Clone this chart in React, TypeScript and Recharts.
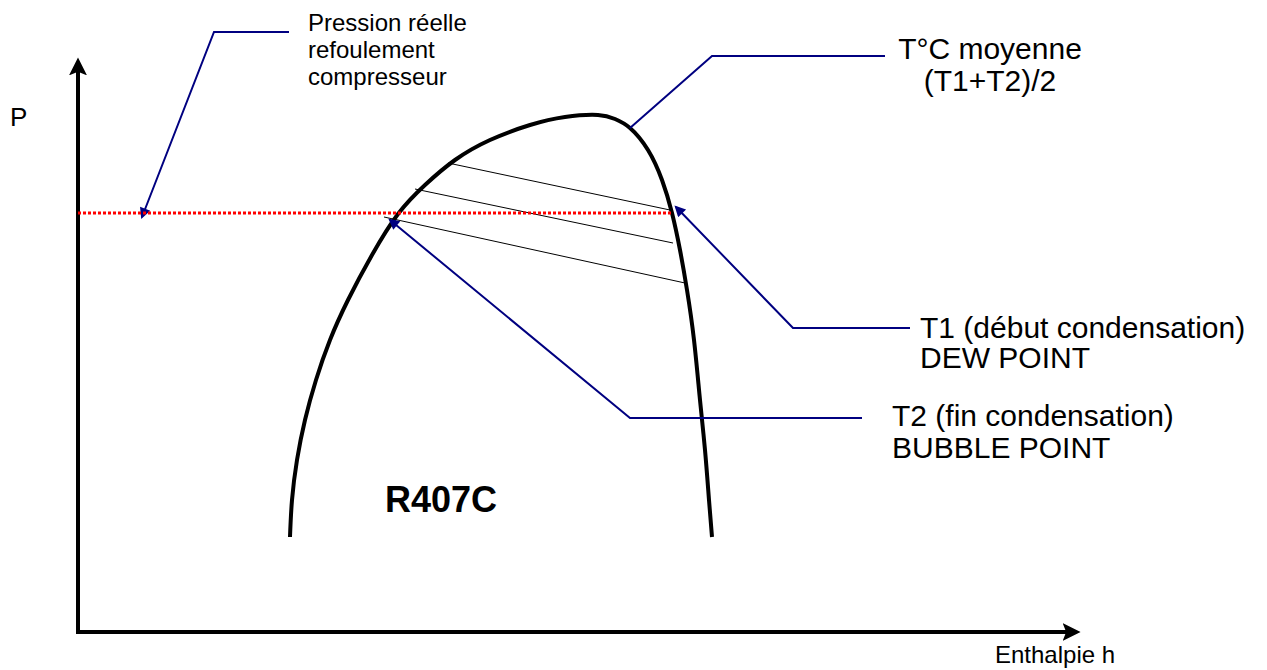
import { LineChart, Line, XAxis, YAxis, ReferenceDot } from "recharts";

// diagram units: h = enthalpie (arbitrary), P = pression (arbitrary)
const axisP = [{ h: 78, P: 38 }, { h: 78, P: 600 }];
const axisH = [{ h: 78, P: 38 }, { h: 1068, P: 38 }];

// saturation dome of R407C (bubble curve on the left, dew curve on the right)
const dome = [
  { h: 290, P: 133 }, { h: 292, P: 170 }, { h: 297, P: 210 }, { h: 305, P: 250 },
  { h: 316, P: 290 }, { h: 330, P: 330 }, { h: 348, P: 370 }, { h: 372, P: 415 },
  { h: 398, P: 456 }, { h: 425, P: 485 }, { h: 455, P: 510 }, { h: 490, P: 530 },
  { h: 530, P: 545 }, { h: 565, P: 553 }, { h: 598, P: 555 }, { h: 615, P: 551 },
  { h: 630, P: 542 }, { h: 648, P: 520 }, { h: 662, P: 490 }, { h: 672, P: 457 },
  { h: 680, P: 420 }, { h: 687, P: 380 }, { h: 694, P: 330 }, { h: 700, P: 270 },
  { h: 705, P: 220 }, { h: 709, P: 170 }, { h: 712, P: 133 },
];

// real discharge pressure (red dotted)
const pressionReelle = [{ h: 78, P: 457 }, { h: 672, P: 457 }];

// isotherms crossing the dome (glide)
const iso1 = [{ h: 448, P: 507 }, { h: 670, P: 460 }];
const iso2 = [{ h: 415, P: 481 }, { h: 673, P: 427 }];
const iso3 = [{ h: 384, P: 453 }, { h: 685, P: 387 }];

// callout leaders
const leaderPression = [{ h: 289, P: 638 }, { h: 214, P: 638 }, { h: 142, P: 453 }];
const leaderMoyenne = [{ h: 885, P: 614 }, { h: 712, P: 614 }, { h: 630, P: 542 }];
const leaderT1 = [{ h: 910, P: 342 }, { h: 793, P: 342 }, { h: 676, P: 463 }];
const leaderT2 = [{ h: 862, P: 252 }, { h: 630, P: 252 }, { h: 390, P: 450 }];

const labelPression = ["Pression réelle", "refoulement", "compresseur"];
const labelMoyenne = ["T°C moyenne", "(T1+T2)/2"];
const labelT1 = ["T1 (début condensation)", "DEW POINT"];
const labelT2 = ["T2 (fin condensation)", "BUBBLE POINT"];
const labelFluide = "R407C";
const labelP = "P";
const labelH = "Enthalpie h";

const FONT = "'Liberation Sans', Arial, sans-serif";
const NAVY = "#000080";

const textShape =
  (lines: string[], size: number, gap: number, anchor: "start" | "middle" = "start", bold = false) =>
  (p: any) => (
    <text
      x={p.cx}
      y={p.cy}
      fontFamily={FONT}
      fontSize={size}
      fontWeight={bold ? "bold" : "normal"}
      textAnchor={anchor}
      fill="#000"
    >
      {lines.map((l, i) => (
        <tspan key={i} x={p.cx} dy={i === 0 ? 0 : gap}>
          {l}
        </tspan>
      ))}
    </text>
  );

const leader = (data: any[], arrow: boolean) => (
  <Line
    data={data}
    dataKey="P"
    type="linear"
    stroke={NAVY}
    strokeWidth={2}
    dot={false}
    activeDot={false}
    isAnimationActive={false}
    markerEnd={arrow ? "url(#arrowNavy)" : undefined}
  />
);

export default function App() {
  return (
    <div style={{ position: "absolute", left: 0, top: 0, background: "#fff" }}>
      <LineChart width={1267} height={670} margin={{ top: 0, right: 0, bottom: 0, left: 0 }}>
        <defs>
          <marker id="arrowAxis" viewBox="0 0 10 10" refX="3" refY="5" markerWidth="18" markerHeight="18"
            markerUnits="userSpaceOnUse" orient="auto">
            <path d="M0,0 L10,5 L0,10 L2,5 z" fill="#000" />
          </marker>
          <marker id="arrowNavy" viewBox="0 0 10 10" refX="8" refY="5" markerWidth="14" markerHeight="11"
            markerUnits="userSpaceOnUse" orient="auto">
            <path d="M0,0 L10,5 L0,10 z" fill={NAVY} />
          </marker>
        </defs>
        <XAxis type="number" dataKey="h" domain={[0, 1267]} allowDataOverflow hide />
        <YAxis type="number" dataKey="P" domain={[0, 670]} allowDataOverflow hide />

        <Line data={axisP} dataKey="P" type="linear" stroke="#000" strokeWidth={4} strokeLinecap="square"
          dot={false} activeDot={false} isAnimationActive={false} markerEnd="url(#arrowAxis)" />
        <Line data={axisH} dataKey="P" type="linear" stroke="#000" strokeWidth={4} strokeLinecap="square"
          dot={false} activeDot={false} isAnimationActive={false} markerEnd="url(#arrowAxis)" />

        <Line data={iso1} dataKey="P" type="linear" stroke="#000" strokeWidth={1} dot={false} activeDot={false} isAnimationActive={false} />
        <Line data={iso2} dataKey="P" type="linear" stroke="#000" strokeWidth={1} dot={false} activeDot={false} isAnimationActive={false} />
        <Line data={iso3} dataKey="P" type="linear" stroke="#000" strokeWidth={1} dot={false} activeDot={false} isAnimationActive={false} />

        <Line data={dome} dataKey="P" type="natural" stroke="#000" strokeWidth={4} dot={false} activeDot={false} isAnimationActive={false} />

        {leader(leaderPression, true)}
        {leader(leaderMoyenne, false)}
        {leader(leaderT1, true)}
        {leader(leaderT2, true)}

        <Line data={pressionReelle} dataKey="P" type="linear" stroke="#ff0000" strokeWidth={3}
          strokeDasharray="3 2" dot={false} activeDot={false} isAnimationActive={false} />

        <ReferenceDot x={10} y={544} r={0} shape={textShape([labelP], 26, 0)} />
        <ReferenceDot x={995} y={7} r={0} shape={textShape([labelH], 24, 0)} />
        <ReferenceDot x={308} y={639} r={0} shape={textShape(labelPression, 24, 27)} />
        <ReferenceDot x={990} y={611} r={0} shape={textShape(labelMoyenne, 30, 32, "middle")} />
        <ReferenceDot x={920} y={332} r={0} shape={textShape(labelT1, 30, 30)} />
        <ReferenceDot x={892} y={244} r={0} shape={textShape(labelT2, 30, 32)} />
        <ReferenceDot x={385} y={158} r={0} shape={textShape([labelFluide], 36, 0, "start", true)} />
      </LineChart>
    </div>
  );
}
